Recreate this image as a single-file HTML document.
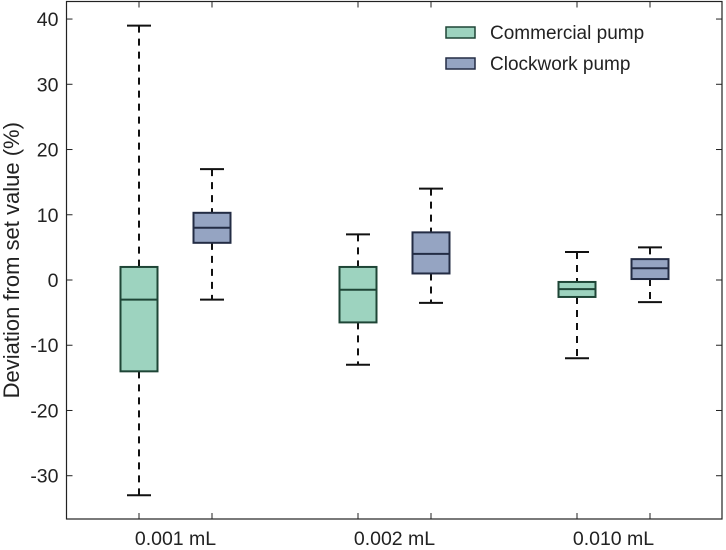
<!DOCTYPE html>
<html><head><meta charset="utf-8"><style>
body{margin:0;background:#fff}
svg{display:block;font-family:"Liberation Sans",Arial,sans-serif}
</style></head><body>
<svg id="chart" width="726" height="550"></svg>
<script>
const categories=["0.001 mL","0.002 mL","0.010 mL"];
const seriesNames=["Commercial pump","Clockwork pump"];
const whiskerLow=[[-33,-3],[-13,-3.5],[-12,-3.4]];
const q1=[[-14,5.7],[-6.5,1],[-2.6,0.15]];
const medians=[[-3,8],[-1.5,4],[-1.4,1.8]];
const q3=[[2,10.3],[2,7.3],[-0.3,3.2]];
const whiskerHigh=[[39,17],[7,14],[4.3,5]];
const yTicks=[-30,-20,-10,0,10,20,30,40];

const svg=document.getElementById('chart');
const NS='http://www.w3.org/2000/svg';
const L=66.5,R=722,T=1.5,B=519;
const fills=['#9dd3bf','#95a4c2'],strokes=['#1e4536','#232c44'];
function y(v){return 280-v*6.524;}
function x(ci,si){return 139+ci*219+si*73;}
function mk(tag,at,parent){const e=document.createElementNS(NS,tag);for(const k in at)e.setAttribute(k,at[k]);(parent||svg).appendChild(e);return e;}

const axes=mk('g',{});


mk('rect',{x:L,y:T,width:R-L,height:B-T,fill:'none',stroke:'#222','stroke-width':1.2},axes);
yTicks.forEach(v=>{
  mk('line',{x1:L,x2:L+6,y1:y(v),y2:y(v),stroke:'#222'},axes);
  mk('line',{x1:R,x2:R-6,y1:y(v),y2:y(v),stroke:'#222'},axes);
  const t=mk('text',{x:L-8,y:y(v)+7,'text-anchor':'end','font-size':19.5,fill:'#222'},axes);
  t.textContent=v;
  
  
});
categories.forEach((c,ci)=>{
  [0,1].forEach(si=>{
    mk('line',{x1:x(ci,si),x2:x(ci,si),y1:B,y2:B-6,stroke:'#222'},axes);
    mk('line',{x1:x(ci,si),x2:x(ci,si),y1:T,y2:T+6,stroke:'#222'},axes);
  });
  const t=mk('text',{x:(x(ci,0)+x(ci,1))/2,y:B+26,'text-anchor':'middle','font-size':19.5,fill:'#222'},axes);
  t.textContent=c;
  
  
});
const yt=mk('text',{x:0,y:0,'text-anchor':'middle','font-size':22,fill:'#222',transform:`translate(19,${(T+B)/2}) rotate(-90)`});
yt.textContent='Deviation from set value (%)';



categories.forEach((c,ci)=>{
  [0,1].forEach(si=>{
    const g=mk('g',{});
    
    
    const cx=x(ci,si),hw=18.5,cw=12;
    mk('line',{x1:cx,x2:cx,y1:y(whiskerHigh[ci][si]),y2:y(q3[ci][si]),stroke:'#111','stroke-width':2,'stroke-dasharray':'7,6'},g);
    mk('line',{x1:cx,x2:cx,y1:y(q1[ci][si]),y2:y(whiskerLow[ci][si]),stroke:'#111','stroke-width':2,'stroke-dasharray':'7,6'},g);
    mk('line',{x1:cx-cw,x2:cx+cw,y1:y(whiskerHigh[ci][si]),y2:y(whiskerHigh[ci][si]),stroke:'#111','stroke-width':2},g);
    mk('line',{x1:cx-cw,x2:cx+cw,y1:y(whiskerLow[ci][si]),y2:y(whiskerLow[ci][si]),stroke:'#111','stroke-width':2},g);
    mk('rect',{x:cx-hw,y:y(q3[ci][si]),width:2*hw,height:y(q1[ci][si])-y(q3[ci][si]),fill:fills[si],stroke:strokes[si],'stroke-width':2},g);
    mk('line',{x1:cx-hw,x2:cx+hw,y1:y(medians[ci][si]),y2:y(medians[ci][si]),stroke:strokes[si],'stroke-width':2},g);
  });
});

seriesNames.forEach((n,si)=>{
  const g=mk('g',{});
  
  
  mk('rect',{x:446,y:27+si*31,width:29,height:11,fill:fills[si],stroke:strokes[si],'stroke-width':1.5},g);
  const t=mk('text',{x:490,y:39+si*31,'font-size':19,fill:'#222'},g);
  t.textContent=n;
});
</script>
</body></html>
